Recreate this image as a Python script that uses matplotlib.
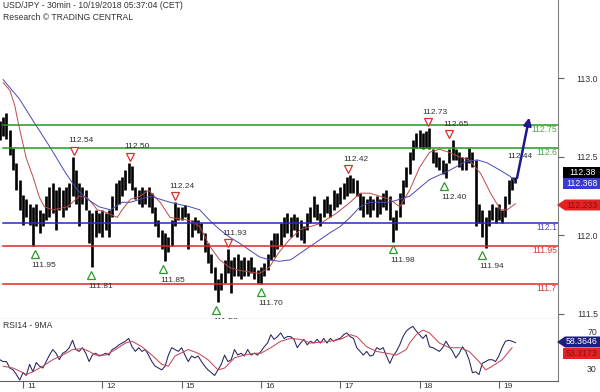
import numpy as np
import matplotlib.pyplot as plt
from matplotlib import transforms
from matplotlib.patches import Polygon

plt.rcParams['font.family'] = ['Liberation Sans', 'DejaVu Sans']

# hourly bars, bar 0 = Oct 10 17:00 CET
bar_high = [112.78, 112.80, 112.83, 112.72, 112.60, 112.50, 112.39, 112.29, 112.26, 112.23,
            112.21, 112.23, 112.19, 112.17, 112.28, 112.34, 112.37, 112.32, 112.34, 112.32,
            112.34, 112.37, 112.54, 112.45, 112.37, 112.34, 112.32, 112.19, 112.17, 112.19,
            112.17, 112.19, 112.17, 112.19, 112.28, 112.37, 112.39, 112.41, 112.45, 112.50,
            112.48, 112.34, 112.32, 112.34, 112.32, 112.34, 112.30, 112.21, 112.12, 112.06,
            112.04, 112.01, 112.12, 112.24, 112.21, 112.21, 112.22, 112.17, 112.12, 112.14,
            112.12, 112.10, 112.04, 111.97, 111.90, 111.81, 111.73, 111.77, 111.86, 111.93,
            111.86, 111.88, 111.90, 111.86, 111.88, 111.86, 111.88, 111.81, 111.79, 111.81,
            111.84, 111.90, 111.99, 112.04, 112.04, 112.10, 112.14, 112.17, 112.14, 112.16,
            112.14, 112.12, 112.08, 112.17, 112.21, 112.28, 112.23, 112.17, 112.26, 112.28,
            112.23, 112.32, 112.30, 112.34, 112.37, 112.41, 112.42, 112.40, 112.39, 112.30,
            112.28, 112.26, 112.28, 112.26, 112.28, 112.26, 112.30, 112.32, 112.28, 112.14,
            112.19, 112.30, 112.39, 112.47, 112.57, 112.65, 112.70, 112.72, 112.70, 112.71,
            112.73, 112.59, 112.57, 112.54, 112.52, 112.50, 112.59, 112.65, 112.59, 112.57,
            112.54, 112.54, 112.60, 112.57, 112.52, 112.23, 112.19, 112.14, 112.19, 112.23,
            112.21, 112.23, 112.19, 112.28, 112.39, 112.41, 112.41]
bar_low = [112.65, 112.68, 112.66, 112.55, 112.45, 112.32, 112.19, 112.09, 112.14, 112.09,
           111.95, 112.08, 112.04, 112.08, 112.12, 112.14, 112.17, 112.06, 112.19, 112.14,
           112.19, 112.21, 112.28, 112.23, 112.08, 112.23, 112.19, 111.97, 111.81, 112.01,
           112.04, 112.01, 112.06, 112.01, 112.14, 112.19, 112.23, 112.28, 112.32, 112.37,
           112.32, 112.26, 112.23, 112.21, 112.23, 112.21, 112.17, 112.08, 112.01, 111.93,
           111.85, 111.91, 111.95, 112.08, 112.12, 112.12, 112.14, 111.93, 112.01, 112.06,
           112.04, 111.99, 111.91, 111.84, 111.77, 111.66, 111.58, 111.66, 111.71, 111.77,
           111.64, 111.75, 111.75, 111.73, 111.75, 111.75, 111.77, 111.73, 111.71, 111.70,
           111.75, 111.79, 111.86, 111.88, 111.93, 111.95, 112.01, 112.04, 112.01, 112.06,
           112.01, 111.99, 111.97, 112.06, 112.10, 112.14, 112.12, 112.08, 112.14, 112.17,
           112.14, 112.19, 112.21, 112.23, 112.26, 112.28, 112.30, 112.30, 112.28, 112.19,
           112.14, 112.16, 112.14, 112.19, 112.14, 112.16, 112.21, 112.19, 112.12, 111.98,
           112.06, 112.14, 112.23, 112.34, 112.43, 112.52, 112.60, 112.60, 112.59, 112.60,
           112.59, 112.50, 112.47, 112.45, 112.43, 112.40, 112.50, 112.52, 112.52, 112.47,
           112.45, 112.45, 112.50, 112.47, 112.08, 112.10, 112.01, 111.94, 112.08, 112.12,
           112.10, 112.12, 112.10, 112.14, 112.23, 112.32, 112.37]

# moving averages on price (bar index, value)
ma_fast_bar = [1, 3, 4.5, 5.5, 8, 10, 12, 13.5, 16, 20.5, 24, 26.5, 29.5, 32.5, 35.5, 37, 39.5,
               42.5, 45, 48.5, 51.5, 57.5, 60.5, 63.5, 66.5, 69.5, 72.5, 78.5, 81.5, 84.5, 87.5,
               91, 97, 102, 106, 109, 112, 115, 118, 121, 124, 127, 130, 133, 136, 139, 142,
               145.5, 148.5, 151.5, 153.5, 156]
ma_fast = [113.03, 112.98, 112.88, 112.77, 112.53, 112.41, 112.27, 112.21, 112.19, 112.21,
           112.28, 112.27, 112.19, 112.17, 112.14, 112.19, 112.26, 112.28, 112.32, 112.24,
           112.14, 112.12, 112.08, 111.95, 111.86, 111.81, 111.79, 111.77, 111.81, 111.91,
           111.99, 112.06, 112.10, 112.17, 112.24, 112.30, 112.30, 112.28, 112.26, 112.21,
           112.32, 112.47, 112.57, 112.59, 112.57, 112.54, 112.52, 112.43, 112.30, 112.19,
           112.19, 112.23]
ma_slow_bar = [1, 6, 10, 15, 20, 23.5, 26.5, 30, 33.5, 37, 39.5, 45.5, 51.5, 57.5, 60.5, 63.5,
               66.5, 69.5, 72.5, 78.5, 81.5, 84.5, 88, 94, 100, 103, 106, 109, 112, 118, 124,
               130, 136, 141, 144.5, 147.5, 151.5, 154.5, 156]
ma_slow = [113.05, 112.92, 112.78, 112.61, 112.43, 112.32, 112.26, 112.21, 112.19, 112.24,
           112.24, 112.28, 112.24, 112.21, 112.19, 112.12, 112.06, 112.01, 111.97, 111.88,
           111.86, 111.85, 111.86, 111.95, 112.04, 112.08, 112.14, 112.21, 112.24, 112.24,
           112.28, 112.39, 112.45, 112.51, 112.52, 112.50, 112.45, 112.41, 112.37]

# RSI14, one value per bar, and its 9MA
rsi = [40, 38, 38, 31, 29, 24, 18, 26, 23, 35, 27, 37, 33, 31, 38, 45, 51, 47, 40, 47, 49,
       53, 61, 51, 49, 53, 47, 38, 45, 47, 44, 45, 47, 45, 51, 53, 56, 58, 60, 63, 54,
       49, 53, 49, 51, 45, 38, 33, 31, 29, 33, 45, 53, 51, 49, 53, 45, 38, 44, 42, 44,
       38, 33, 29, 26, 23, 29, 35, 45, 38, 40, 51, 45, 47, 44, 51, 45, 47, 45,
       49, 54, 58, 67, 62, 65, 69, 63, 65, 65, 62, 53, 58, 62, 56, 60, 58, 62, 58, 63,
       58, 63, 60, 62, 63, 67, 69, 65, 63, 53, 49, 45, 49, 44, 45, 53, 51, 53, 44, 36,
       44, 49, 56, 65, 71, 74, 76, 71, 67, 63, 67, 54, 53, 51, 49, 53, 60, 54, 49, 42,
       47, 54, 49, 40, 26, 27, 24, 36, 38, 40, 40, 38, 44, 53, 60, 61, 60, 58.4]
rsi_ma_bar = [1, 4, 7, 8, 10, 13, 16, 19, 22, 25, 27, 29, 32, 35, 38, 40, 43, 46, 49, 51, 53,
              57, 60, 63, 66, 68, 71, 74, 77, 79, 82, 85, 88, 91, 94, 97, 100, 103, 106, 108,
              111, 114, 117, 120, 123, 124, 126, 128, 130, 133, 136, 139, 142, 145, 147, 149,
              152, 155]
rsi_ma = [33, 31, 26, 24, 27, 33, 40, 45, 51, 52, 49, 45, 45, 51, 58, 60, 54, 45, 35, 33, 44,
          51, 47, 40, 29, 31, 42, 45, 47, 47, 53, 60, 63, 62, 58, 59, 60, 62, 67, 65, 54,
          49, 47, 45, 51, 58, 67, 72, 69, 58, 53, 53, 49, 38, 29, 33, 40, 53]

# support / resistance levels
res_levels = [112.75, 112.6]
pivot_level = 112.1
sup_levels = [111.95, 111.7]

# swing highs / lows (hour from Oct 11 00:00, value)
peak_hour = [15.5, 32.5, 46, 62, 98.5, 122.5, 129]
peak_val = [112.54, 112.50, 112.24, 111.93, 112.42, 112.73, 112.65]
trough_hour = [3.5, 20.5, 42.5, 58.5, 72, 112, 127.5, 139]
trough_val = [111.95, 111.81, 111.85, 111.58, 111.70, 111.98, 112.40, 111.94]

# projected move
proj_from = (149.5, 112.40)
proj_to = (153.2, 112.80)
proj_label = 112.44

day_hours = [0, 24, 48, 72, 96, 120, 144]
day_labels = ['11', '12', '15', '16', '17', '18', '19']

last_close = 112.38
last_slow = 112.368
last_fast = 112.233
last_rsi = 58.3646
last_rsi_ma = 53.3173

hours = np.arange(len(bar_high)) - 7
W, H = 600, 392

fig = plt.figure(figsize=(W / 100, H / 100), dpi=100)
ax = fig.add_axes([0, 73 / H, 558 / W, 319 / H])
rax = fig.add_axes([0, 11 / H, 558 / W, 62 / H], sharex=ax)

xlim = (-6.96, 161.9)
ax.set_xlim(*xlim)
ax.set_ylim(111.469, 113.576)

ax.vlines(hours, bar_low, bar_high, color='black', linewidth=1.9)
ax.plot(np.array(ma_fast_bar) - 7, ma_fast, color='#c04848', lw=0.7)
ax.plot(np.array(ma_slow_bar) - 7, ma_slow, color='#4848b8', lw=0.7)

for v in res_levels:
    ax.axhline(v, xmin=0.005, color='#1f9a1f', lw=1.1)
ax.axhline(pivot_level, xmin=0.005, color='#2a2ac0', lw=1.1)
for v in sup_levels:
    ax.axhline(v, xmin=0.005, color='#e02424', lw=1.1)

blend = transforms.blended_transform_factory(ax.transAxes, ax.transData)
lvl_txt = [(112.75, '112.75', '#4aa84a'), (112.6, '112.6', '#4aa84a'),
           (112.1, '112.1', '#4a4ac8'), (111.95, '111.95', '#d23a3a'),
           (111.7, '111.7', '#d23a3a')]
for v, s, c in lvl_txt:
    ax.text(0.998, v, s, transform=blend, ha='right', va='top', color=c, fontsize=6.2)

up = transforms.offset_copy(ax.transData, fig=fig, x=0, y=6, units='dots')
down = transforms.offset_copy(ax.transData, fig=fig, x=0, y=-7.5, units='dots')
ax.plot(peak_hour, peak_val, 'v', ms=6, mfc='white', mec='#d83030', mew=0.9,
        transform=up, clip_on=False)
ax.plot(trough_hour, trough_val, '^', ms=6, mfc='white', mec='#2e9a2e', mew=0.9,
        transform=down)
for h, v in zip(peak_hour, peak_val):
    ax.annotate(f'{v:.2f}', (h, v), xytext=(7, 16), textcoords='offset pixels',
                ha='center', va='center', fontsize=6, color='#303030')
for h, v in zip(trough_hour, trough_val):
    ax.annotate(f'{v:.2f}', (h, v), xytext=(9.5, -19), textcoords='offset pixels',
                ha='center', va='center', fontsize=6, color='#303030', clip_on=True)

ax.annotate('', xy=proj_to, xytext=proj_from,
            arrowprops=dict(arrowstyle='-|>', color='#1a1a8c', lw=1.8, mutation_scale=11,
                            shrinkA=0, shrinkB=0))
ax.text(proj_from[0] + 1, proj_label + 0.105, f'{proj_label:.2f}', ha='center', va='center',
        fontsize=6, color='#303030')

for s in ['top', 'left']:
    ax.spines[s].set_visible(False)
ax.spines['right'].set_color('#808080')
ax.spines['bottom'].set_color('#606060')
ax.set_yticks([])
ax.tick_params(left=False, labelleft=False, bottom=False, labelbottom=False)

# right-hand price scale
sax = ax.twinx()
sax.set_ylim(111.465, 113.497)
for s in sax.spines.values():
    s.set_visible(False)
sax.yaxis.set_ticks_position('right')
sax.set_yticks([111.5, 112.0, 112.5, 113.0])
sax.set_yticklabels(['111.5', '112.0', '112.5', '113.0'])
sax.tick_params(axis='y', direction='out', length=4, color='#606060', pad=25,
                labelsize=6.3, labelcolor='#333333', left=False, labelleft=False)
for lab in sax.get_yticklabels():
    lab.set_horizontalalignment('right')

# RSI panel
rax.set_ylim(17, 84)
rax.plot(hours, rsi, color='#24245e', lw=0.75)
rax.plot(np.array(rsi_ma_bar) - 7, rsi_ma, color='#c8485a', lw=0.75)
rax.text(0.005, 0.9, 'RSI14 - 9MA', transform=rax.transAxes, fontsize=6.2,
         color='#333333', va='center')
rax.spines['top'].set_visible(False)
rax.spines['left'].set_visible(False)
rax.spines['right'].set_color('#808080')
rax.spines['bottom'].set_color('#606060')
rax.yaxis.tick_right()
rax.set_yticks([30, 70])
rax.tick_params(axis='y', length=0, pad=28, labelsize=6.3, labelcolor='#333333',
                left=False)
for lab in rax.get_yticklabels():
    lab.set_horizontalalignment('right')
rax.set_xticks(day_hours)
rax.set_xticklabels(day_labels)
rax.set_xlim(*xlim)
rax.tick_params(axis='x', direction='out', length=5, color='#606060', pad=-3.2,
                labelsize=6, labelcolor='#333333')
shift = transforms.ScaledTranslation(4 / 100, 0, fig.dpi_scale_trans)
for lab in rax.get_xticklabels():
    lab.set_horizontalalignment('left')
    lab.set_transform(lab.get_transform() + shift)


def fpt(x, y):
    return (x / W, 1 - y / H)


def tag(y, text, fc, tc, pointed=False, x0=563):
    t, b = y - 5.5, y + 5.5
    if pointed:
        pts = [(557, y), (565, t), (600, t), (600, b), (565, b)]
    else:
        pts = [(x0, t), (600, t), (600, b), (x0, b)]
    fig.add_artist(Polygon([fpt(px, py) for px, py in pts], closed=True,
                           transform=fig.transFigure, fc=fc, ec='none'))
    fig.text(*fpt(582, y), text, ha='center', va='center', fontsize=6.3, color=tc)


tag(172.5, f'{last_close:.2f}', 'black', 'white')
tag(183.5, f'{last_slow:.3f}', '#3b3bd4', 'white')
tag(205, f'{last_fast:.3f}', '#e52222', '#8a1010', pointed=True)
tag(342, f'{last_rsi:.4f}', '#1e1e7e', 'white', pointed=True)
tag(353.5, f'{last_rsi_ma:.4f}', '#e52222', '#8a1010')

fig.text(3 / W, 1 - 6 / H, 'USD/JPY - 30min - 10/19/2018 05:37:04 (CET)', fontsize=6.2,
         color='#333333', va='center')
fig.text(3 / W, 1 - 17 / H, 'Research \u00a9 TRADING CENTRAL', fontsize=6.2,
         color='#333333', va='center')

fig.savefig('out.png', dpi=100, facecolor='white')
